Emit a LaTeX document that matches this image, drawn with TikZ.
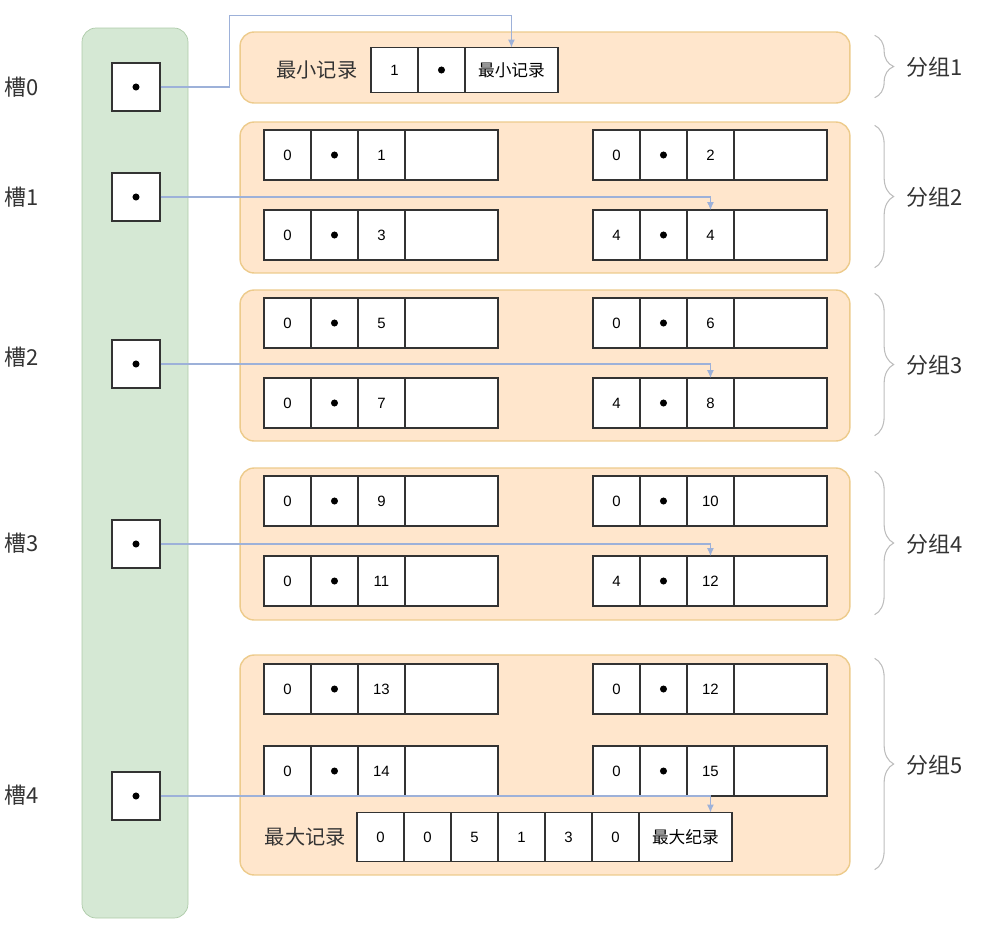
\documentclass[tikz,border=0pt]{standalone}
\usepackage{fontspec}
\setmainfont{Liberation Sans}
\newfontfamily\cjk{Noto Sans CJK SC}
\usetikzlibrary{arrows.meta,positioning,decorations.pathreplacing}
\definecolor{slotgreen}{HTML}{D5E8D4}
\definecolor{slotline}{HTML}{AECBA9}
\definecolor{grouporange}{HTML}{FFE6CC}
\definecolor{groupline}{HTML}{EDCB8C}
\definecolor{linkblue}{HTML}{9DB1D9}
\definecolor{bracegray}{HTML}{BDBDBD}
\definecolor{textgray}{HTML}{333333}

\begin{document}
\begin{tikzpicture}[
        x=0.02cm, y=-0.02cm,
        node distance=0pt,
        slotcol/.style={
          fill=slotgreen,
          draw=slotline,
          rounded corners=8pt
        },
        grpbox/.style={
          fill=grouporange,
          draw=groupline,
          rounded corners=8pt,
          thick,
          minimum width=12.2cm
        },
        cell/.style={
          draw=black!80,
          fill=white,
          line width=0.7pt,
          minimum width=0.94cm,
          minimum height=1cm,
          inner sep=0pt,
          outer sep=0pt,
          font=\fontsize{8.5}{10}\selectfont
        },
        wide/.style={cell, minimum width=1.86cm},
        slot/.style={
          draw=black!80,
          fill=white,
          line width=0.7pt,
          minimum size=0.96cm,
          inner sep=0pt
        },
        lbl/.style={font=\cjk\fontsize{12.5}{14}\selectfont, text=textgray},
        inlbl/.style={font=\cjk\fontsize{11.5}{13}\selectfont, text=textgray},
        smalllbl/.style={font=\cjk\fontsize{9.5}{11}\selectfont},
        link/.style={
          -{Latex[length=1.6mm,width=1.4mm]},
          linkblue,
          line width=0.6pt
        },
        grpbrace/.style={
          decorate,
          decoration={brace, amplitude=0.38cm},
          bracegray,
          line width=0.6pt
        }
      ]

      \useasboundingbox (0,0) rectangle (988,924);

      % slot directory
      \draw[slotcol] (82,28) rectangle (188,918);
      \foreach \i/\y/\ly in {0/87/87, 1/197/197, 2/364/357, 3/544/543, 4/796/795} {
        \node[slot] (s\i) at (136,\y) {};
        \fill (s\i) circle (2pt);
        \node[lbl] (l\i) at (22,\ly) {槽\i};
      }

      % groups
      \node[grpbox, minimum height=1.42cm] (g1) at (545,67.5) {};
      \node[grpbox, minimum height=3.02cm] (g2) at (545,197.5) {};
      \node[grpbox, minimum height=3.02cm] (g3) at (545,365.5) {};
      \node[grpbox, minimum height=3.04cm] (g4) at (545,544) {};
      \node[grpbox, minimum height=4.4cm] (g5) at (545,765) {};

      \foreach \g/\n in {g1/1, g2/2, g3/3, g4/4, g5/5} {
        \draw[grpbrace] ([xshift=0.48cm,yshift=-0.08cm]\g.north east) -- ([xshift=0.48cm,yshift=0.12cm]\g.south east);
        \node[lbl, anchor=west] (t\n) at ([xshift=1.0cm]\g.east) {分组\n};
      }

      % smallest record
      \node[cell, minimum height=0.9cm, anchor=west] (mn-1) at (371,70) {1};
      \node[cell, minimum height=0.9cm, right=of mn-1] (mn-2) {};
      \node[wide, minimum height=0.9cm, right=of mn-2, smalllbl] (mn-3) {最小记录};
      \fill (mn-2) circle (2pt);
      \node[inlbl, left=0.15cm of mn-1] (mnl) {最小记录};

      % user records
      \foreach \nm/\x/\y/\a/\c in {g2a/264/155/0/1, g2b/593/155/0/2, g2c/264/235/0/3, g2d/593/235/4/4,
                                   g3a/264/323/0/5, g3b/593/323/0/6, g3c/264/403/0/7, g3d/593/403/4/8,
                                   g4a/264/501/0/9, g4b/593/501/0/10, g4c/264/581/0/11, g4d/593/581/4/12,
                                   g5a/264/689/0/13, g5b/593/689/0/12, g5c/264/771/0/14, g5d/593/771/0/15} {
        \node[cell, anchor=west] (\nm-1) at (\x,\y) {\a};
        \node[cell, right=of \nm-1] (\nm-2) {};
        \node[cell, right=of \nm-2] (\nm-3) {\c};
        \node[wide, right=of \nm-3] (\nm-4) {};
        \fill (\nm-2) circle (2pt);
      }

      % largest record
      \node[cell, minimum height=0.98cm, anchor=west] (mx-1) at (357,837) {0};
      \foreach \v [count=\i from 2] in {0,5,1,3,0} {
        \pgfmathtruncatemacro\j{\i-1}
        \node[cell, minimum height=0.98cm, right=of mx-\j] (mx-\i) {\v};
      }
      \node[wide, minimum height=0.98cm, right=of mx-6, smalllbl] (mx-7) {最大纪录};
      \node[inlbl, left=0.1cm of mx-1] (mxl) {最大记录};

      % slot pointers
      \draw[link] (s0.east) -- ++(69,0) |- ([yshift=0.64cm]mn-3.north) -- (mn-3.north);
      \draw[link] (s1.east) -| (g2d-3.north);
      \draw[link] (s2.east) -| (g3d-3.north);
      \draw[link] (s3.east) -| (g4d-3.north);
      \draw[link] (s4.east) -| (mx-7.north -| g5d-3.center);

      \end{tikzpicture}
\end{document}
